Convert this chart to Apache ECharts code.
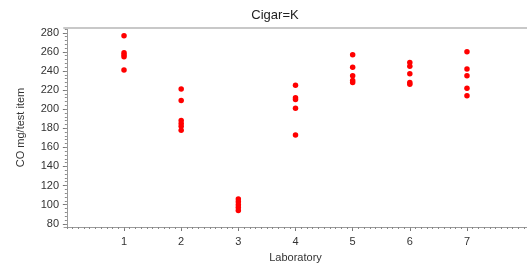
<!DOCTYPE html>
<html>
<head>
<meta charset="utf-8">
<script src="https://cdn.jsdelivr.net/npm/echarts@6/dist/echarts.min.js"></script>
<style>
  html, body { margin: 0; padding: 0; background: #fff; }
  #chart { width: 527px; height: 268px; }
</style>
</head>
<body>
<div id="chart"></div>
<script>
'use strict';

// CO readings per laboratory
var labs = [1, 2, 3, 4, 5, 6, 7];
var lab1 = [277, 259, 257, 255, 241];
var lab2 = [221, 209, 188, 185, 182, 178];
var lab3 = [106, 103, 100, 97, 94];
var lab4 = [225, 212, 210, 201, 173];
var lab5 = [257, 244, 235, 230, 228];
var lab6 = [249, 245, 237, 228, 226];
var lab7 = [260, 242, 235, 222, 214];
var yTicks = [80, 100, 120, 140, 160, 180, 200, 220, 240, 260, 280];

var allLabs = [lab1, lab2, lab3, lab4, lab5, lab6, lab7];
var points = [];
allLabs.forEach(function (vals, i) {
    vals.forEach(function (v) { points.push([labs[i], v]); });
});

var xMinor = [];
for (var i = 0; i <= 80; i++) xMinor.push(i / 10);
var yMinor = [];
for (var v = 80; v <= 284; v += 4) yMinor.push(v);

var chart = echarts.init(document.getElementById('chart'));
var font = 'Liberation Sans, Arial, sans-serif';
var axisGrey = '#9a9a9a';

var option = {
    animation: false,
    title: {
        text: 'Cigar=K',
        left: 270, top: 4, textAlign: 'center',
        textStyle: { fontFamily: font, fontSize: 13, fontWeight: 500, color: '#222' }
    },
    grid: { left: 64, top: 28, right: 0, bottom: 39 },
    xAxis: [{
        type: 'value', min: -0.05, max: 8.05,
        name: 'Laboratory', nameLocation: 'middle', nameGap: 25,
        nameTextStyle: { fontFamily: font, fontSize: 11, color: '#333' },
        axisLine: { lineStyle: { color: axisGrey } },
        axisTick: { customValues: labs, length: 4, lineStyle: { color: '#777' } },
        axisLabel: { customValues: labs, fontFamily: font, fontSize: 11, color: '#333', margin: 9 },
        splitLine: { show: false }
    }, {
        type: 'value', min: -0.05, max: 8.05, position: 'bottom',
        axisLine: { show: false },
        axisTick: { customValues: xMinor, length: 2, lineStyle: { color: '#888' } },
        axisLabel: { show: false },
        splitLine: { show: false }
    }, {
        type: 'value', min: -0.05, max: 8.05, position: 'top',
        axisLine: { show: true, lineStyle: { color: '#c8c8c8', width: 2 } },
        axisTick: { show: false }, axisLabel: { show: false }, splitLine: { show: false }
    }],
    yAxis: [{
        type: 'value', min: 76.6, max: 285,
        name: 'CO mg/test item', nameLocation: 'middle', nameGap: 38,
        nameTextStyle: { fontFamily: font, fontSize: 11, color: '#333' },
        axisLine: { show: true, lineStyle: { color: axisGrey } },
        axisTick: { show: true, customValues: yTicks, length: 4, lineStyle: { color: '#777' } },
        axisLabel: { customValues: yTicks, fontFamily: font, fontSize: 11, color: '#333', margin: 5 },
        splitLine: { show: false }
    }, {
        type: 'value', min: 76.6, max: 285, position: 'left',
        axisLine: { show: false },
        axisTick: { show: true, customValues: yMinor, length: 2, lineStyle: { color: '#888' } },
        axisLabel: { show: false },
        splitLine: { show: false }
    }],
    series: [{
        type: 'scatter',
        data: points,
        symbolSize: 5.5,
        itemStyle: { color: '#ff0000', opacity: 1 }
    }]
};

chart.setOption(option);
</script>
</body>
</html>
